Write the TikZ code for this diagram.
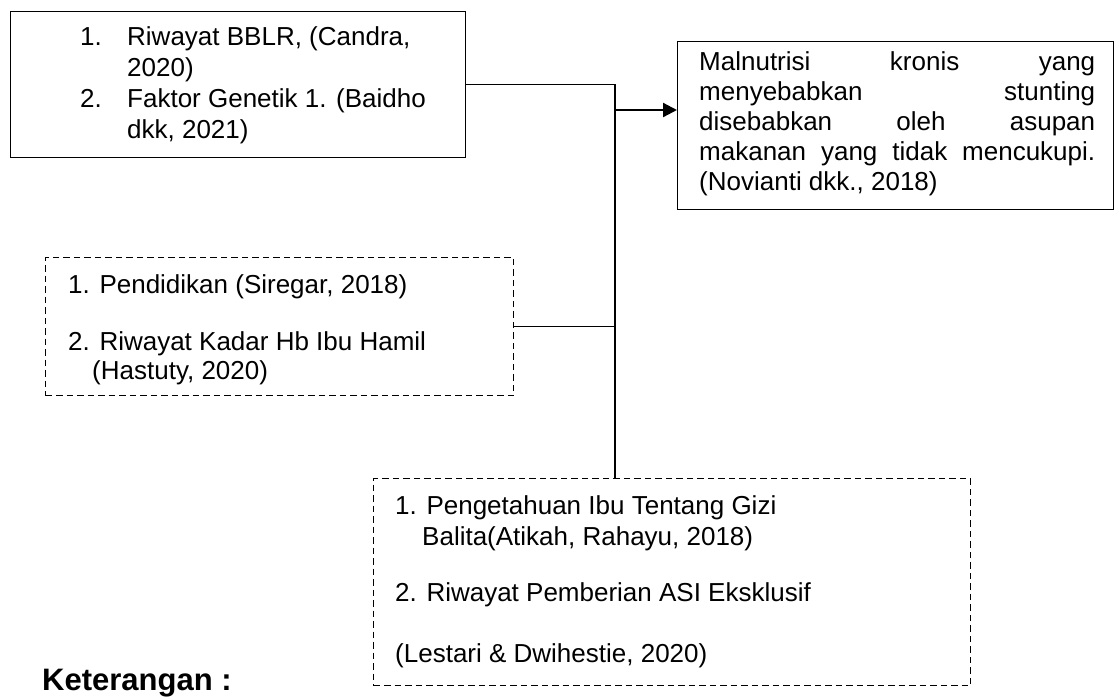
\documentclass[tikz,border=0pt]{standalone}
\usepackage{fontspec}
\setmainfont{Liberation Sans}
\usetikzlibrary{arrows.meta}
\begin{document}
\begin{tikzpicture}[x=1pt,y=-1pt,
  solidbox/.style={draw, line width=1.3pt, inner sep=0pt, anchor=north west},
  dashbox/.style={draw, line width=1.3pt, dash pattern=on 6.5pt off 4pt, inner sep=0pt, anchor=north west},
  txt/.style={anchor=base west, inner sep=0pt, font=\fontsize{26}{30}\selectfont},
  conn/.style={line width=1.3pt},
  arr/.style={line width=2.2pt, -{Triangle[length=14pt,width=14pt]}}]
\useasboundingbox[fill=white] (0,0) rectangle (1118,697);

% boxes
\node[solidbox, minimum width=455pt, minimum height=146pt] (b1) at (10,11) {};
\node[dashbox, minimum width=468pt, minimum height=138pt] (b2) at (45,257) {};
\node[dashbox, minimum width=597pt, minimum height=207pt] (b3) at (373,478) {};
\node[solidbox, minimum width=436pt, minimum height=168pt] (b4) at (677,41) {};

% box 1 text
\node[txt] (t11n) at (80,45) {1.};
\node[txt] (t11) at (127,45) {Riwayat BBLR, (Candra,};
\node[txt] (t12) at (127,76) {2020)};
\node[txt] (t13n) at (80,107) {2.};
\node[txt] (t13) at (127,107) {Faktor Genetik 1. (Baidho};
\node[txt] (t14) at (127,138) {dkk, 2021)};

% box 2 text
\node[txt] (t21) at (68,293) {1. Pendidikan (Siregar, 2018)};
\node[txt] (t22) at (68,350) {2. Riwayat Kadar Hb Ibu Hamil};
\node[txt] (t23) at (92,379) {(Hastuty, 2020)};

% box 3 text
\node[txt] (t31) at (395,514) {1. Pengetahuan Ibu Tentang Gizi};
\node[txt] (t32) at (422,545) {Balita(Atikah, Rahayu, 2018)};
\node[txt] (t33) at (395,601) {2. Riwayat Pemberian ASI Eksklusif};
\node[txt] (t34) at (395,662) {(Lestari \& Dwihestie, 2020)};

% box 4 text (justified)
\node[txt] (t41) at (699,70)  {\hbox to 396pt{Malnutrisi\hfill kronis\hfill yang}};
\node[txt] (t42) at (699,100) {\hbox to 396pt{menyebabkan\hfill stunting}};
\node[txt] (t43) at (699,130) {\hbox to 396pt{disebabkan\hfill oleh\hfill asupan}};
\node[txt] (t44) at (699,160) {\hbox to 396pt{makanan\hfill yang\hfill tidak\hfill mencukupi.}};
\node[txt] (t45) at (699,190) {(Novianti dkk., 2018)};

% legend
\node[anchor=base west, inner sep=0pt, font=\fontsize{31}{34}\selectfont\bfseries] (ket) at (42,690) {Keterangan :};

% connectors
\coordinate (spine) at (615,0);
\coordinate (ay) at (0,110);
\draw[conn] (b1.east) -- (b1.east -| spine) -- (spine |- b3.north);
\draw[conn] (b2.east) -- (b2.east -| spine);
\draw[arr] (spine |- ay) -- (b4.west |- ay);
\end{tikzpicture}
\end{document}
